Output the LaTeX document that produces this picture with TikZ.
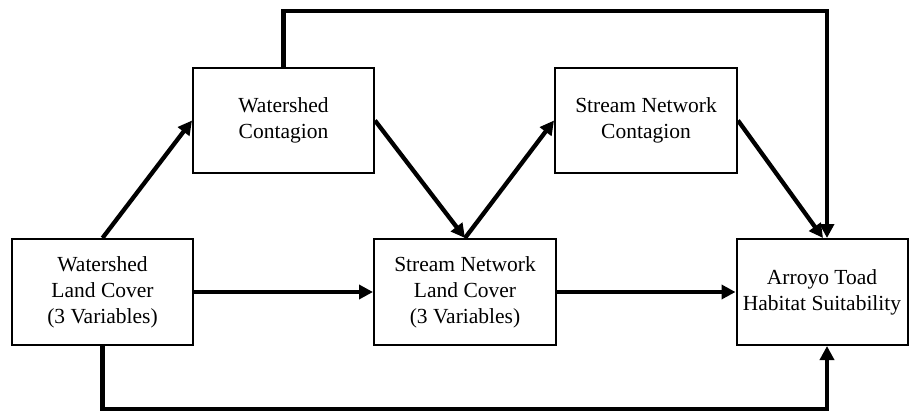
\documentclass[tikz,border=0pt]{standalone}
\usepackage{fontspec}
\setmainfont{Liberation Serif}
\usetikzlibrary{arrows.meta,calc}
\begin{document}
\begin{tikzpicture}[x=1pt,y=-1pt,
  box/.style={draw, line width=2pt, minimum width=181pt, minimum height=106pt, align=center, inner sep=2pt, font=\fontsize{21.5}{26}\selectfont},
  conn/.style={line width=4.3pt, -{Triangle[length=14pt,width=14pt]}},
  plain/.style={line width=4.3pt}]
\useasboundingbox (0,0) rectangle (909,412);
\node[box] (A) at (102.5,292) {Watershed\\Land Cover\\(3 Variables)};
\node[box, minimum height=105pt] (B) at (283.5,120.5) {Watershed\\Contagion};
\node[box, minimum width=182pt] (C) at (465,292) {Stream Network\\Land Cover\\(3 Variables)};
\node[box, minimum width=182pt, minimum height=105pt] (D) at (646,120.5) {Stream Network\\Contagion};
\node[box, minimum width=171pt] (E) at (822,292) {Arroyo Toad\\Habitat Suitability};
\coordinate (top) at (0,11);
\coordinate (bot) at (0,409);
\draw[conn] (A.north) -- (B.west);
\draw[conn] (B.east) -- (C.north);
\draw[conn] (C.north) -- (D.west);
\draw[conn] (D.east) -- ([xshift=1pt]E.north);
\draw[conn] (A.east) -- (C.west);
\draw[conn] (C.east) -- (E.west);
\draw[conn] (B.north) -- (B.north |- top) -| ([xshift=5pt]E.north);
\draw[conn] (A.south) -- (A.south |- bot) -| ([xshift=5pt]E.south);
\end{tikzpicture}
\end{document}
